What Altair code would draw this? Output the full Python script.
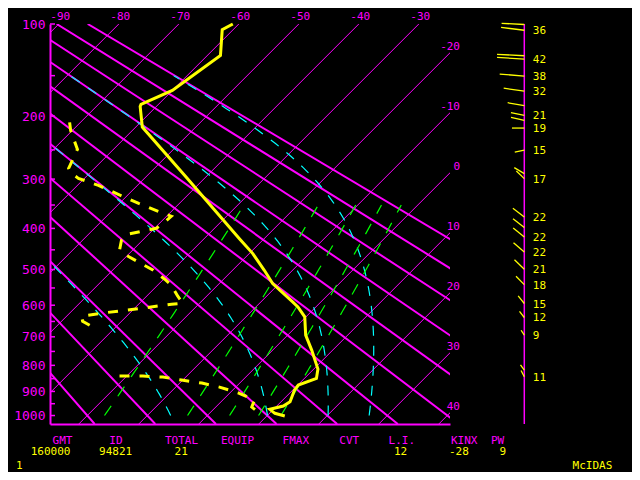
import numpy as np
import pandas as pd
import altair as alt

# ---------------- values ----------------
# temperature profile (hPa, deg C)
temp_p = [100.0, 104.9, 128.8, 155.4, 167.1, 184.5, 187.1, 215.4, 296.1, 422.8, 459.3,
          501.9, 537.7, 590.3, 605.1, 635.6, 694.4, 745.4, 813.8, 848.9, 874.9, 894.6,
          941.9, 959.8, 973.6, 990.5, 1002.2]
temp_t = [-61.0, -61.8, -57.8, -59.4, -60.0, -62.9, -62.7, -58.9, -43.3, -24.2, -19.4,
          -14.7, -11.1, -4.7, -3.0, -0.2, 3.0, 6.5, 10.7, 12.0, 10.1, 10.3,
          11.5, 11.1, 9.4, 10.9, 13.0]
# dewpoint profile, upper and lower pieces (hPa, deg C)
dew_p_upper = [208.7, 220.2, 249.2, 280.9, 289.7, 298.7, 311.6, 328.8, 346.6, 363.1, 373.6,
               382.2, 399.8, 413.4, 427.3, 448.8, 463.5, 501.9, 525.9, 542.4, 573.6, 594.1,
               597.0, 609.0, 624.3, 633.5, 649.2, 668.3]
dew_t_upper = [-71.8, -70.3, -66.0, -64.3, -63.0, -61.0, -56.5, -51.7, -46.8, -42.2, -39.2,
               -39.3, -39.7, -43.5, -43.5, -42.3, -40.2, -33.2, -29.8, -27.7, -24.8, -22.8,
               -24.5, -28.8, -34.7, -37.5, -36.5, -33.8]
dew_p_lower = [840.2, 840.2, 844.0, 855.5, 867.1, 882.8, 906.6, 935.0, 964.0, 980.9]
dew_t_lower = [-21.2, -17.3, -13.8, -10.2, -6.3, -2.7, 1.5, 5.3, 6.0, 7.5]

# winds: level (hPa), speed (kt), direction (deg), speed printed or not
wind_p = [100.4, 105.3, 129.0, 132.5, 150.6, 167.9, 186.1, 199.0, 205.9, 216.8, 250.3, 290.2,
          299.2, 374.9, 398.2, 419.5, 455.5, 499.3, 540.6, 595.0, 637.6, 694.5, 817.7, 842.9]
wind_spd = [35, 36, 42, 42, 38, 32, 26, 21, 21, 19, 15, 18,
            17, 22, 22, 22, 22, 21, 18, 15, 12, 9, 10, 11]
wind_dir = [273, 277, 273, 274, 275, 278, 280, 282, 283, 270, 258, 301,
            314, 307, 308, 309, 311, 314, 315, 321, 322, 327, 324, 333]
wind_labeled = [False, True, False, True, True, True, False, True, False, True, True, False,
                True, True, False, True, True, True, True, True, True, True, False, True]

isotherms = list(range(-90, 41, 10))
top_label_temps = list(range(-90, -29, 10))
right_label_temps = list(range(-20, 41, 10))
theta_c = list(range(-20, 91, 10))      # dry adiabats (deg C)
theta_e_c = [0, 30, 60, 90]             # moist adiabats (theta-e, deg C)
mix_ratios = [1, 3, 5, 7, 9]            # g/kg
p_major = list(range(100, 1001, 100))
p_ticks = list(range(100, 1001, 50))

header_names = ["GMT", "ID", "TOTAL", "EQUIP", "FMAX", "CVT", "L.I.", "KINX", "PW"]
header_values = ["160000", "94821", "21", "", "", "", "12", "-28", "9"]
footer_left = "1"
footer_right = "McIDAS"

# ---------------- styling / layout ----------------
MAG, YEL, CYA, GRN = "#ff00ff", "#ffff00", "#00ffff", "#00ff00"
FONT = "DejaVu Sans Mono"
KAPPA = 0.286
P_TOP, P_BOT = 100.0, 1037.0
W = H = 400
PX_DEG = 6.0
XMIN = -24.8
XMAX = XMIN + W / PX_DEG
A, B = P_TOP ** KAPPA, P_BOT ** KAPPA
PAD_L, PAD_T = 42, 16
ORIG_X, ORIG_Y = 8 + PAD_L, 8 + PAD_T   # page position of plot origin

def py_of_p(p):
    return H * (np.asarray(p, float) ** KAPPA - A) / (B - A)

def p_of_py(py):
    return (A + np.asarray(py, float) / H * (B - A)) ** (1.0 / KAPPA)

def skew(t, p):
    return np.asarray(t, float) + (H - py_of_p(p)) / PX_DEG

def x_of_px(px):
    return XMIN + np.asarray(px, float) / PX_DEG

WIND_X = float(x_of_px(474.3))
KT_PX = 0.65

xs = alt.Scale(domain=[XMIN, XMAX], nice=False, zero=False)
ys = alt.Scale(type="pow", exponent=KAPPA, domain=[P_TOP, P_BOT], reverse=True,
               nice=False, zero=False)
xaxis = alt.Axis(labels=False, ticks=False, tickSize=0, domainColor=MAG, domainWidth=2,
                 grid=False, title=None)
yaxis = alt.Axis(values=p_major, format="d", labelColor=MAG, labelFont=FONT, labelFontSize=13,
                 labelPadding=5, ticks=False, tickSize=0, domainColor=MAG, domainWidth=2,
                 grid=False, title=None, labelOverlap=False, labelBaseline="middle")

def XY(c):
    return c.encode(x=alt.X("X:Q", scale=xs, axis=xaxis), y=alt.Y("p:Q", scale=ys, axis=yaxis))

# ---------------- background lines ----------------
rows = []
for t in isotherms:
    for i, p in enumerate([P_TOP, P_BOT]):
        rows.append(dict(id=t, i=i, X=float(skew(t, p)), p=p))
iso_df = pd.DataFrame(rows)

rows = []
for th in theta_c:
    for i, p in enumerate([P_TOP, P_BOT]):
        t = (th + 273.15) * (p / 1000.0) ** KAPPA - 273.15
        rows.append(dict(id=th, i=i, X=float(skew(t, p)), p=p))
dry_df = pd.DataFrame(rows)

def theta_e(tc, p):
    tk = tc + 273.15
    es = 6.112 * np.exp(17.67 * tc / (tc + 243.5))
    rs = 0.622 * es / (p - es)
    return tk * (1000.0 / p) ** KAPPA * np.exp(2.5e6 * rs / (1004.0 * tk))

def moist_t(the_k, p):
    lo = np.full_like(p, -120.0)
    hi = np.full_like(p, 40.0)
    for _ in range(60):
        mid = (lo + hi) / 2
        f = theta_e(mid, p) - the_k
        lo = np.where(f < 0, mid, lo)
        hi = np.where(f >= 0, mid, hi)
    return (lo + hi) / 2

p_m = np.arange(1000.0, 149.0, -10.0)
rows = []
for the in theta_e_c:
    tm = moist_t(the + 273.15, p_m)
    for i, (p, t) in enumerate(zip(p_m, tm)):
        rows.append(dict(id=the, i=i, X=float(skew(t, p)), p=float(p)))
moist_df = pd.DataFrame(rows)

p_w = np.arange(1000.0, 349.0, -10.0)
rows = []
for w in mix_ratios:
    q = w / 1000.0
    e = q * p_w / (0.622 + q)
    lg = np.log(e / 6.112)
    td = 243.5 * lg / (17.67 - lg)
    for i, (p, t) in enumerate(zip(p_w, td)):
        rows.append(dict(id=w, i=i, X=float(skew(t, p)), p=float(p)))
mix_df = pd.DataFrame(rows)

tick_df = pd.DataFrame(dict(p=[float(v) for v in p_ticks]))
tick_df["X"] = XMIN
tick_df["X2"] = XMIN + 5.0 / PX_DEG

# isotherm labels
top_df = pd.DataFrame(dict(label=[str(t) for t in top_label_temps],
                           X=[float(skew(t, P_TOP)) for t in top_label_temps],
                           p=P_TOP))
right_df = pd.DataFrame(dict(label=[str(t) for t in right_label_temps],
                             X=XMAX,
                             p=[float(p_of_py(H - PX_DEG * (XMAX - t))) for t in right_label_temps]))

# ---------------- sounding ----------------
temp_df = pd.DataFrame(dict(i=range(len(temp_p)), X=skew(temp_t, temp_p), p=temp_p))
dew_df = pd.concat([
    pd.DataFrame(dict(seg=0, i=range(len(dew_p_upper)), X=skew(dew_t_upper, dew_p_upper), p=dew_p_upper)),
    pd.DataFrame(dict(seg=1, i=range(len(dew_p_lower)), X=skew(dew_t_lower, dew_p_lower), p=dew_p_lower)),
], ignore_index=True)

# ---------------- winds ----------------
wp = np.array(wind_p, float)
L = KT_PX * np.array(wind_spd, float)
d = np.radians(np.array(wind_dir, float))
end_py = py_of_p(wp) - L * np.cos(d)
wind_df = pd.DataFrame(dict(X=WIND_X, p=wp, X2=WIND_X + L * np.sin(d) / PX_DEG, p2=p_of_py(end_py)))
wlab_df = pd.DataFrame(dict(X=WIND_X, p=wp, label=[str(s) for s in wind_spd], show=wind_labeled))
wlab_df = wlab_df[wlab_df["show"]].drop(columns="show")
waxis_df = pd.DataFrame(dict(X=[WIND_X], p=[P_TOP], p2=[P_BOT]))

# ---------------- bottom texts ----------------
header_left_page = [52.6, 109.3, 165.0, 221.0, 282.6, 339.3, 388.6, 451.0, 491.0]
value_right_page = [70.5, 132.2, 187.8, None, None, None, 407.2, 468.8, 506.2]
HEAD_Y, VAL_Y, FOOT_Y = 440.5, 452.0, 465.5

hdr_df = pd.DataFrame(dict(label=header_names,
                           X=x_of_px(np.array(header_left_page) - ORIG_X),
                           p=float(p_of_py(HEAD_Y - ORIG_Y))))
vals = [(v, x) for v, x in zip(header_values, value_right_page) if v]
val_df = pd.DataFrame(dict(label=[v for v, _ in vals],
                           X=x_of_px(np.array([x for _, x in vals]) - ORIG_X),
                           p=float(p_of_py(VAL_Y - ORIG_Y))))
foot_df = pd.DataFrame(dict(label=[footer_left, footer_right],
                            X=x_of_px(np.array([16.0, 572.6]) - ORIG_X),
                            p=float(p_of_py(FOOT_Y - ORIG_Y))))

# ---------------- layers ----------------
layers = [
    XY(alt.Chart(iso_df).mark_line(color=MAG, strokeWidth=1, clip=True)).encode(detail="id:N", order="i:Q"),
    XY(alt.Chart(dry_df).mark_line(color=MAG, strokeWidth=2, clip=True)).encode(detail="id:N", order="i:Q"),
    XY(alt.Chart(moist_df).mark_line(color=CYA, strokeWidth=1.2, strokeDash=[10, 10], clip=True)).encode(detail="id:N", order="i:Q"),
    XY(alt.Chart(mix_df).mark_line(color=GRN, strokeWidth=1.2, strokeDash=[11.7, 11.7], clip=True)).encode(detail="id:N", order="i:Q"),
    XY(alt.Chart(tick_df).mark_rule(color=MAG, strokeWidth=1.5)).encode(x2="X2:Q"),
    XY(alt.Chart(waxis_df).mark_rule(color=MAG, strokeWidth=1.5)).encode(y2="p2:Q"),
    XY(alt.Chart(wind_df).mark_rule(color=YEL, strokeWidth=1.3)).encode(x2="X2:Q", y2="p2:Q"),
    XY(alt.Chart(temp_df).mark_line(color=YEL, strokeWidth=3)).encode(order="i:Q"),
    XY(alt.Chart(dew_df).mark_line(color=YEL, strokeWidth=3, strokeDash=[10, 10])).encode(detail="seg:N", order="i:Q"),
    XY(alt.Chart(top_df).mark_text(color=MAG, font=FONT, fontSize=11, align="center", baseline="middle", dx=1.5, dy=-7.5)).encode(text="label:N"),
    XY(alt.Chart(right_df).mark_text(color=MAG, font=FONT, fontSize=11, align="right", baseline="middle", dx=10, dy=-6)).encode(text="label:N"),
    XY(alt.Chart(wlab_df).mark_text(color=YEL, font=FONT, fontSize=11, align="left", baseline="middle", dx=8.5, dy=1)).encode(text="label:N"),
    XY(alt.Chart(hdr_df).mark_text(color=MAG, font=FONT, fontSize=11, align="left", baseline="middle")).encode(text="label:N"),
    XY(alt.Chart(val_df).mark_text(color=YEL, font=FONT, fontSize=11, align="right", baseline="middle")).encode(text="label:N"),
    XY(alt.Chart(foot_df).mark_text(color=YEL, font=FONT, fontSize=11, align="left", baseline="middle")).encode(text="label:N"),
]

chart = alt.layer(*layers).properties(
    width=W, height=H,
    autosize=alt.AutoSizeParams(type="none"),
    padding={"left": PAD_L, "top": PAD_T, "right": 624 - PAD_L - W, "bottom": 464 - PAD_T - H},
).configure(background="black").configure_view(strokeWidth=0)

chart.save("out.html", embed_options={"renderer": "svg", "actions": False})
